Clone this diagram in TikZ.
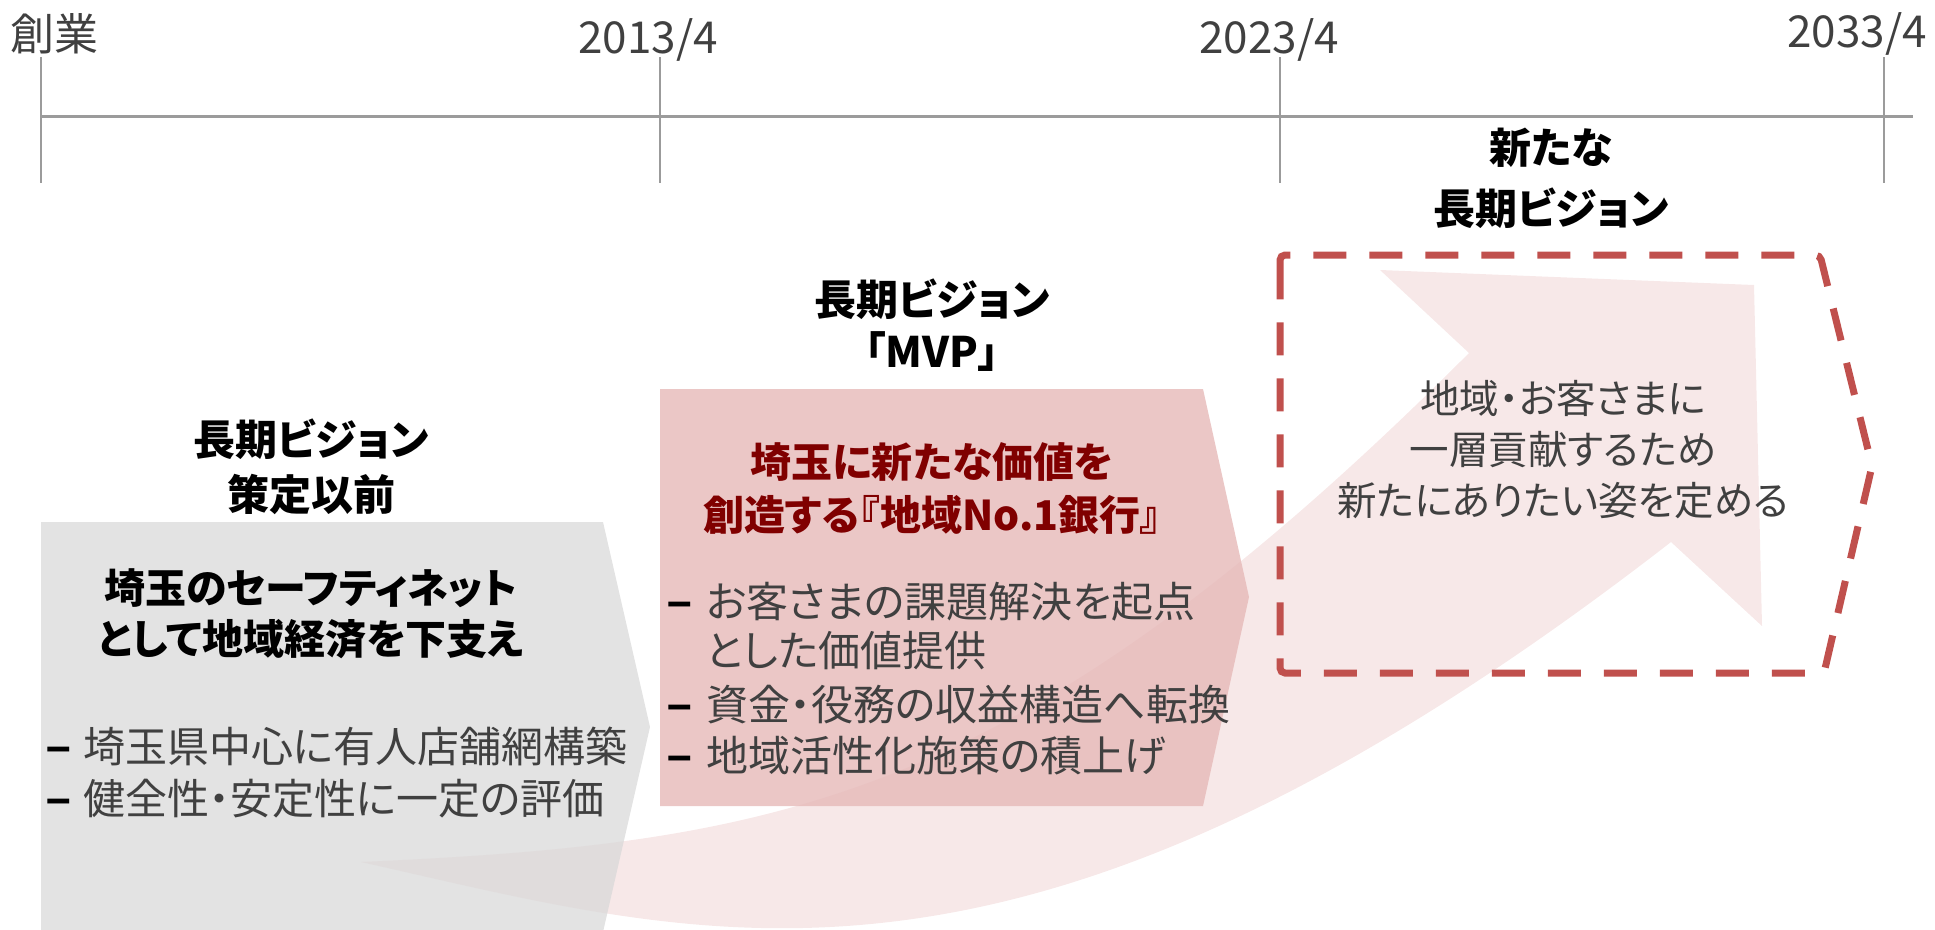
\documentclass[tikz,border=0pt]{standalone}
\usepackage{fontspec}
\setmainfont{Noto Sans CJK JP}[BoldFont={Noto Sans CJK JP Black},RawFeature=+palt]
\newfontfamily\dashfont{Liberation Sans}
\definecolor{tickgray}{RGB}{155,155,155}
\definecolor{boxgray}{RGB}{217,217,217}
\definecolor{boxpink}{RGB}{230,185,184}
\definecolor{arrowpink}{RGB}{247,232,232}
\definecolor{dashred}{RGB}{192,80,77}
\definecolor{txtgray}{RGB}{64,64,64}
\definecolor{darkred}{RGB}{128,0,0}
\newcommand{\bdashmark}{\scalebox{1.05}[1.15]{–}}
\tikzset{
  tl/.style={inner sep=0pt, outer sep=0pt, anchor=base, text=txtgray, font=\fontsize{44}{52}\selectfont},
  head/.style={inner sep=0pt, outer sep=0pt, anchor=base, text=black, font=\bfseries\fontsize{42}{50}\selectfont},
  boldblack/.style={inner sep=0pt, outer sep=0pt, anchor=base, text=black, font=\bfseries\fontsize{41}{50}\selectfont},
  boldred/.style={inner sep=0pt, outer sep=0pt, anchor=base, text=darkred, font=\bfseries\fontsize{41}{50}\selectfont},
  btext/.style={inner sep=0pt, outer sep=0pt, anchor=base west, text=txtgray, font=\fontsize{42}{50}\selectfont},
  bdash/.style={inner sep=0pt, outer sep=0pt, anchor=base west, text=black, font=\dashfont\bfseries\fontsize{42}{50}\selectfont},
  ctext/.style={inner sep=0pt, outer sep=0pt, anchor=base, text=txtgray, font=\fontsize{39.5}{50}\selectfont},
  tick/.style={draw=tickgray, line width=1.5pt},
  axis/.style={draw=tickgray, line width=3pt},
}
\begin{document}
\begin{tikzpicture}[x=1pt,y=-1pt]
\useasboundingbox (0,0) rectangle (1935,929);
\clip (0,0) rectangle (1935,929);
% big curved arrow
\fill[arrowpink] (361,862) .. controls (781,843) and (1019,803) .. (1469,353)
  -- (1380,270) -- (1754,285) -- (1762,626) -- (1671,542)
  .. controls (1021,1046) and (711,940) .. (361,862) -- cycle;
% gray chevron
\fill[boxgray, opacity=0.75] (41,522) -- (603,522) -- (650,727) -- (603,932) -- (41,932) -- cycle;
% pink chevron
\fill[boxpink, opacity=0.8] (660,389) -- (1203,389) -- (1249,597) -- (1203,806) -- (660,806) -- cycle;
% dashed chevron
\draw[dashred, line width=7pt, dash pattern=on 33pt off 23pt, rounded corners=5pt]
  (1280,285) -- (1280,255) -- (1820,255) -- (1872,466) -- (1824,673) -- (1280,673) -- cycle;
% timeline
\draw[axis] (41,116) -- (1913,116);
\draw[tick] (41,57) -- (41,183);
\draw[tick] (660,57) -- (660,183);
\draw[tick] (1280,57) -- (1280,183);
\draw[tick] (1884,57) -- (1884,183);
\node[tl] (t0) at (54,50) {創業};
\node[tl] (t1) at (648,53) {2013/4};
\node[tl] (t2) at (1269,53) {2023/4};
\node[tl] (t3) at (1857,47) {2033/4};
% headings
\node[head] (h3a) at (1551,163) {新たな};
\node[head] (h3b) at (1551,224) {長期ビジョン};
\node[head] (h2a) at (932,315) {長期ビジョン};
\node[head] (h2b) at (932,367) {「MVP」};
\node[head] (h1a) at (311,455) {長期ビジョン};
\node[head] (h1b) at (311,510) {策定以前};
% gray box text
\node[boldblack] (g1) at (311,603) {埼玉のセーフティネット};
\node[boldblack] (g2) at (311,654) {として地域経済を下支え};
\node[bdash] (gd1) at (46,762) {\bdashmark};
\node[btext] (gb1) at (83,762) {埼玉県中心に有人店舗網構築};
\node[bdash] (gd2) at (46,814) {\bdashmark};
\node[btext] (gb2) at (83,814) {健全性・安定性に一定の評価};
% MVP box text
\node[boldred] (m1) at (932,477) {埼玉に新たな価値を};
\node[boldred] (m2) at (932,530) {創造する『地域No.1銀行』};
\node[bdash] (md1) at (667,617) {\bdashmark};
\node[btext] (mb1) at (706,617) {お客さまの課題解決を起点};
\node[btext] (mb1b) at (706,666) {とした価値提供};
\node[bdash] (md2) at (667,720) {\bdashmark};
\node[btext] (mb2) at (706,720) {資金・役務の収益構造へ転換};
\node[bdash] (md3) at (667,771) {\bdashmark};
\node[btext] (mb3) at (706,771) {地域活性化施策の積上げ};
% new vision text
\node[ctext] (n1) at (1563,413) {地域・お客さまに};
\node[ctext] (n2) at (1563,464) {一層貢献するため};
\node[ctext] (n3) at (1563,515) {新たにありたい姿を定める};
\end{tikzpicture}
\end{document}
